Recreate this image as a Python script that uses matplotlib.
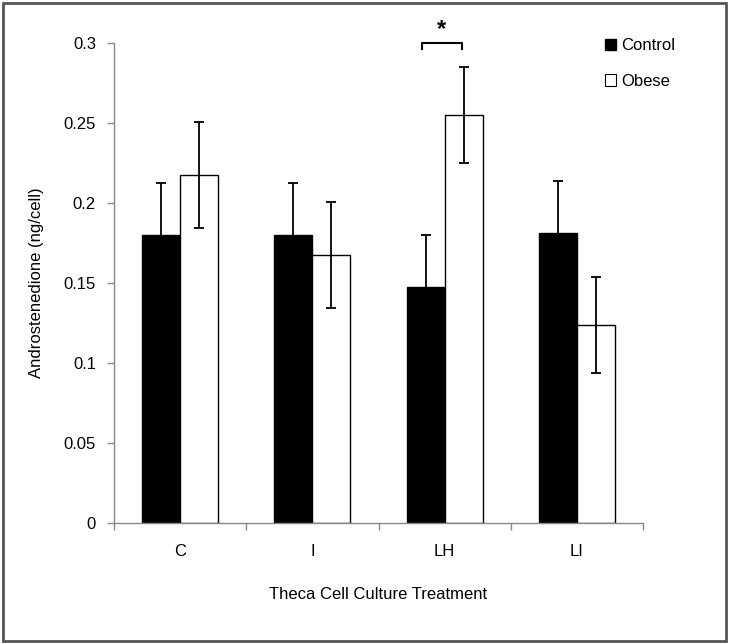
import numpy as np
import matplotlib.pyplot as plt
from matplotlib.patches import Patch, Rectangle

plt.rcParams['font.family'] = ['Liberation Sans', 'DejaVu Sans']

# Data
treatments = ["C", "I", "LH", "LI"]
control = [0.180, 0.180, 0.1475, 0.181]
control_err = [0.0325, 0.0325, 0.0327, 0.0327]
obese = [0.2175, 0.1675, 0.255, 0.124]
obese_err = [0.033, 0.033, 0.030, 0.030]
yticks = [0, 0.05, 0.1, 0.15, 0.2, 0.25, 0.3]

fig = plt.figure(figsize=(7.29, 6.44), dpi=100)
ax = fig.add_axes([114 / 729, 1 - 523 / 644, 529 / 729, 480 / 644])

x = np.arange(len(treatments))
w = 0.287
ekw = dict(ecolor="black", elinewidth=1.3, capsize=3.6, capthick=1.3)
ax.bar(x - w / 2, control, w, color="black", edgecolor="black", linewidth=1.0,
       yerr=control_err, error_kw=ekw)
ax.bar(x + w / 2, obese, w, color="white", edgecolor="black", linewidth=1.0,
       yerr=obese_err, error_kw=ekw)

# significance bracket over LH
ax.plot([2 - w / 2 - 0.03, 2 - w / 2 - 0.03, 2 + w / 2 - 0.01, 2 + w / 2 - 0.01],
        [0.2965, 0.3, 0.3, 0.2965], color="black", lw=1.5, clip_on=False)
ax.text(2 - 0.02, 0.301, "*", ha="center", va="bottom", fontsize=17, fontweight="bold")

ax.set_xlim(-0.5, 3.5)
ax.set_ylim(0, 0.3)
ax.set_yticks(yticks)
ax.set_yticklabels(["0", "0.05", "0.1", "0.15", "0.2", "0.25", "0.3"])
ax.set_xticks(x)
ax.set_xticklabels(treatments)
ax.set_xticks(np.arange(-0.5, 3.6, 1), minor=True)
ax.tick_params(axis="x", which="major", length=0, pad=15, labelsize=12)
ax.tick_params(axis="x", which="minor", length=5, color="#888888", width=1)
ax.tick_params(axis="y", length=5, color="#888888", width=1, labelsize=12, pad=8)

for s in ["top", "right"]:
    ax.spines[s].set_visible(False)
for s in ["left", "bottom"]:
    ax.spines[s].set_color("#888888")
    ax.spines[s].set_linewidth(1)

ax.set_ylabel("Androstenedione (ng/cell)", fontsize=12, labelpad=14)
ax.set_xlabel("Theca Cell Culture Treatment", fontsize=12, labelpad=20)

handles = [Patch(facecolor="black", edgecolor="black", label="Control"),
           Patch(facecolor="white", edgecolor="black", linewidth=0.8, label="Obese")]
fig.legend(handles=handles, loc="upper left", bbox_to_anchor=(590 / 729, 1 - 23 / 644),
           frameon=False, fontsize=12, handlelength=0.65, handleheight=0.65,
           handletextpad=0.3, labelspacing=1.25)

# outer frame
fig.patches.append(Rectangle((3 / 729, 3 / 644), 723 / 729, 638 / 644, transform=fig.transFigure,
                             fill=False, edgecolor="#555555", linewidth=2))

fig.savefig("out.png", dpi=100)
